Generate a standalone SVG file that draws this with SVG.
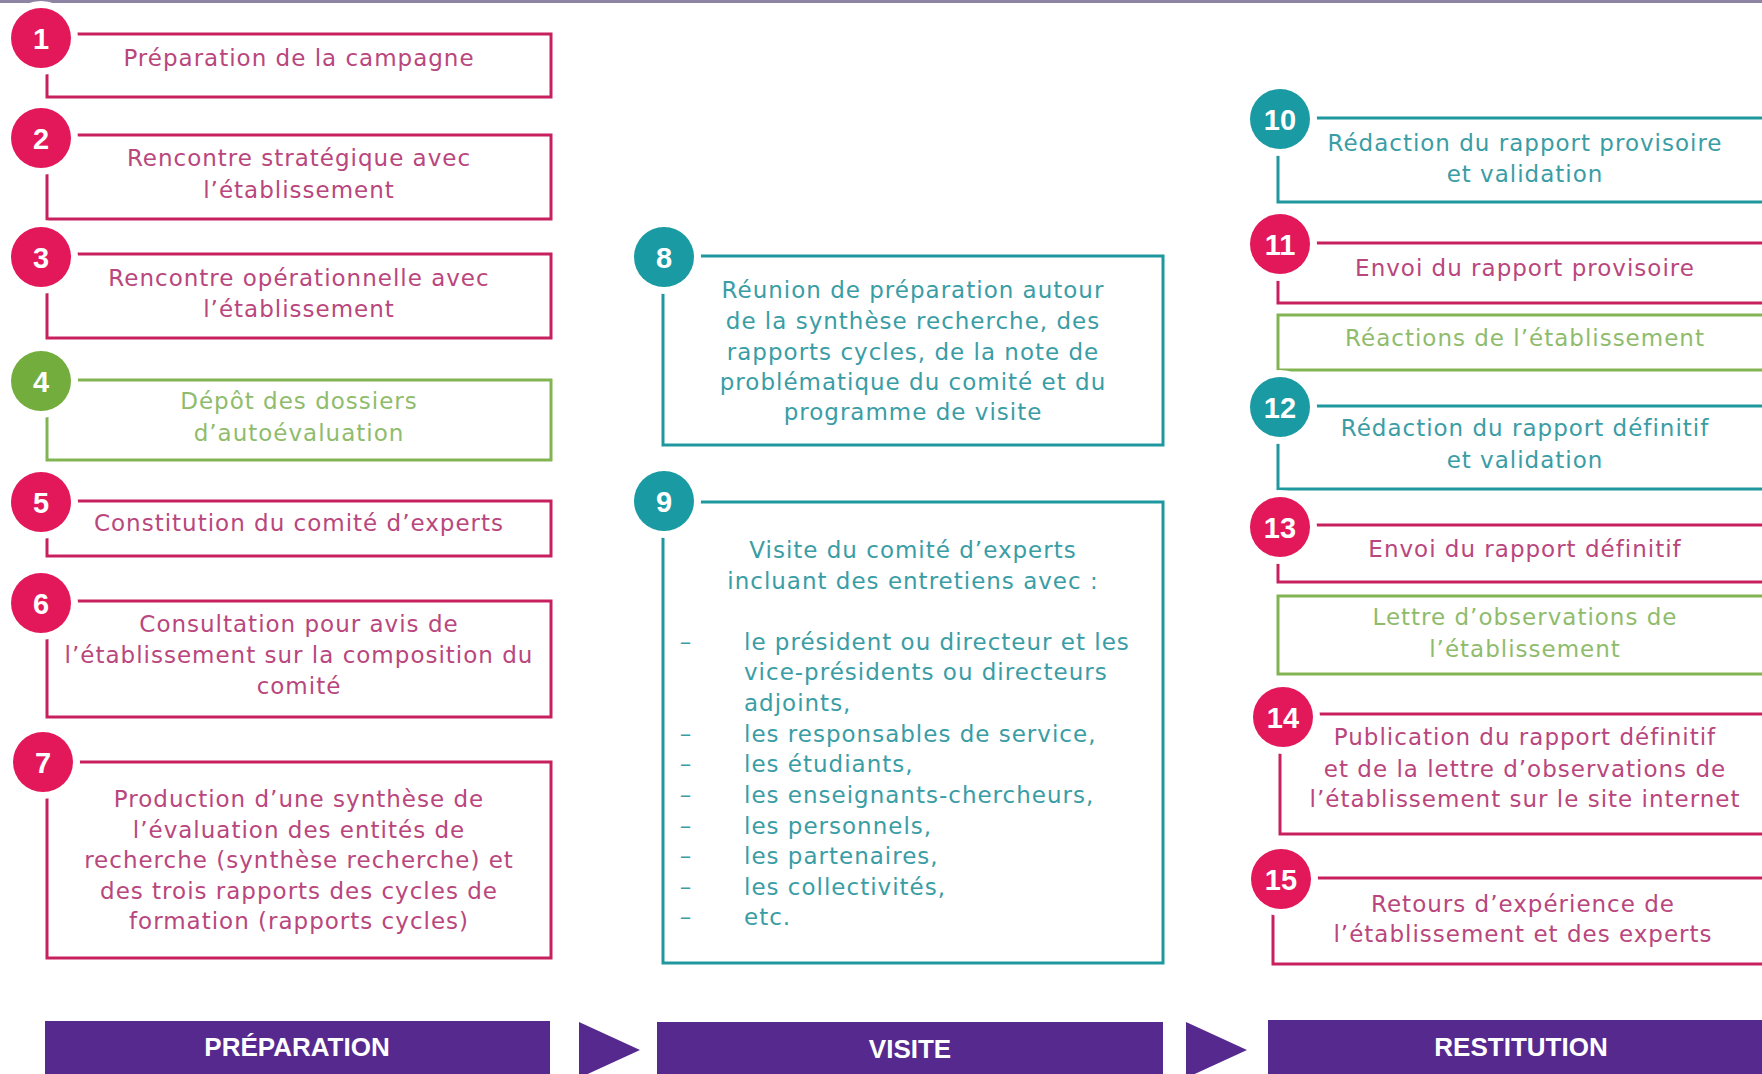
<svg xmlns="http://www.w3.org/2000/svg" width="1762" height="1074" viewBox="0 0 1762 1074">
<defs>
<style>
.pk{fill:#fff;stroke:#c8205f;stroke-width:3}
.tl{fill:#fff;stroke:#1f979f;stroke-width:3}
.gr{fill:#fff;stroke:#82b452;stroke-width:3}
.halo{fill:#fff}
.cpk{fill:#e3185b}
.ctl{fill:#1a9aa2}
.cgr{fill:#73ad3d}
.num{font-family:"Liberation Sans",Arial,sans-serif;font-weight:bold;font-size:29px;fill:#fff;text-anchor:middle}
.t{font-family:"DejaVu Sans",sans-serif;font-size:23px;letter-spacing:1px;text-anchor:middle}
.ts{text-anchor:start}
.tpk{fill:#b9467d}
.ttl{fill:#3a9da5}
.tgr{fill:#8fbc6c}
.bar{fill:#56298f}
.bl{font-family:"Liberation Sans",Arial,sans-serif;font-weight:bold;font-size:26px;fill:#fff;text-anchor:middle}
</style>
</defs>
<rect x="0" y="0" width="1762" height="1074" fill="#fff"/>
<rect x="0" y="0" width="1762" height="3" fill="#8c84a2"/>

<!-- Left column -->
<g id="n1">
<rect class="pk" x="47" y="34" width="504" height="63"/>
<circle class="halo" cx="41" cy="38" r="37"/><circle class="cpk" cx="41" cy="38" r="30"/>
<text class="num" x="41" y="49">1</text>
<text class="t tpk" x="299" y="66">Préparation de la campagne</text>
</g>
<g id="n2">
<rect class="pk" x="47" y="135" width="504" height="84"/>
<circle class="halo" cx="41" cy="138" r="37"/><circle class="cpk" cx="41" cy="138" r="30"/>
<text class="num" x="41" y="149">2</text>
<text class="t tpk" x="299" y="166">Rencontre stratégique avec</text>
<text class="t tpk" x="299" y="198">l’établissement</text>
</g>
<g id="n3">
<rect class="pk" x="47" y="254" width="504" height="84"/>
<circle class="halo" cx="41" cy="257" r="37"/><circle class="cpk" cx="41" cy="257" r="30"/>
<text class="num" x="41" y="268">3</text>
<text class="t tpk" x="299" y="286">Rencontre opérationnelle avec</text>
<text class="t tpk" x="299" y="317">l’établissement</text>
</g>
<g id="n4">
<rect class="gr" x="47" y="380" width="504" height="80"/>
<circle class="halo" cx="41" cy="381" r="37"/><circle class="cgr" cx="41" cy="381" r="30"/>
<text class="num" x="41" y="392">4</text>
<text class="t tgr" x="299" y="409">Dépôt des dossiers</text>
<text class="t tgr" x="299" y="441">d’autoévaluation</text>
</g>
<g id="n5">
<rect class="pk" x="47" y="501" width="504" height="55"/>
<circle class="halo" cx="41" cy="502" r="37"/><circle class="cpk" cx="41" cy="502" r="30"/>
<text class="num" x="41" y="513">5</text>
<text class="t tpk" x="299" y="531">Constitution du comité d’experts</text>
</g>
<g id="n6">
<rect class="pk" x="47" y="601" width="504" height="116"/>
<circle class="halo" cx="41" cy="603" r="37"/><circle class="cpk" cx="41" cy="603" r="30"/>
<text class="num" x="41" y="614">6</text>
<text class="t tpk" x="299" y="632">Consultation pour avis de</text>
<text class="t tpk" x="299" y="663">l’établissement sur la composition du</text>
<text class="t tpk" x="299" y="694">comité</text>
</g>
<g id="n7">
<rect class="pk" x="47" y="762" width="504" height="196"/>
<circle class="halo" cx="43" cy="762" r="37"/><circle class="cpk" cx="43" cy="762" r="30"/>
<text class="num" x="43" y="773">7</text>
<text class="t tpk" x="299" y="807">Production d’une synthèse de</text>
<text class="t tpk" x="299" y="838">l’évaluation des entités de</text>
<text class="t tpk" x="299" y="868">recherche (synthèse recherche) et</text>
<text class="t tpk" x="299" y="899">des trois rapports des cycles de</text>
<text class="t tpk" x="299" y="929">formation (rapports cycles)</text>
</g>

<!-- Middle column -->
<g id="n8">
<rect class="tl" x="663" y="256" width="500" height="189"/>
<circle class="halo" cx="664" cy="257" r="37"/><circle class="ctl" cx="664" cy="257" r="30"/>
<text class="num" x="664" y="268">8</text>
<text class="t ttl" x="913" y="298">Réunion de préparation autour</text>
<text class="t ttl" x="913" y="329">de la synthèse recherche, des</text>
<text class="t ttl" x="913" y="360">rapports cycles, de la note de</text>
<text class="t ttl" x="913" y="390">problématique du comité et du</text>
<text class="t ttl" x="913" y="420">programme de visite</text>
</g>
<g id="n9">
<rect class="tl" x="663" y="502" width="500" height="461"/>
<circle class="halo" cx="664" cy="501" r="37"/><circle class="ctl" cx="664" cy="501" r="30"/>
<text class="num" x="664" y="512">9</text>
<text class="t ttl" x="913" y="558">Visite du comité d’experts</text>
<text class="t ttl" x="913" y="589">incluant des entretiens avec :</text>
<text class="t ttl" x="686" y="650">–</text>
<text class="t ttl ts" x="744" y="650">le président ou directeur et les</text>
<text class="t ttl ts" x="744" y="680">vice-présidents ou directeurs</text>
<text class="t ttl ts" x="744" y="711">adjoints,</text>
<text class="t ttl" x="686" y="742">–</text>
<text class="t ttl ts" x="744" y="742">les responsables de service,</text>
<text class="t ttl" x="686" y="772">–</text>
<text class="t ttl ts" x="744" y="772">les étudiants,</text>
<text class="t ttl" x="686" y="803">–</text>
<text class="t ttl ts" x="744" y="803">les enseignants-chercheurs,</text>
<text class="t ttl" x="686" y="834">–</text>
<text class="t ttl ts" x="744" y="834">les personnels,</text>
<text class="t ttl" x="686" y="864">–</text>
<text class="t ttl ts" x="744" y="864">les partenaires,</text>
<text class="t ttl" x="686" y="895">–</text>
<text class="t ttl ts" x="744" y="895">les collectivités,</text>
<text class="t ttl" x="686" y="925">–</text>
<text class="t ttl ts" x="744" y="925">etc.</text>
</g>

<!-- Right column -->
<g id="n10">
<rect class="tl" x="1278" y="118" width="520" height="84"/>
<circle class="halo" cx="1280" cy="119" r="37"/><circle class="ctl" cx="1280" cy="119" r="30"/>
<text class="num" x="1280" y="130">10</text>
<text class="t ttl" x="1525" y="151">Rédaction du rapport provisoire</text>
<text class="t ttl" x="1525" y="182">et validation</text>
</g>
<g id="n11">
<rect class="pk" x="1278" y="243" width="520" height="60"/>
<circle class="halo" cx="1280" cy="244" r="37"/><circle class="cpk" cx="1280" cy="244" r="30"/>
<text class="num" x="1280" y="255">11</text>
<text class="t tpk" x="1525" y="276">Envoi du rapport provisoire</text>
</g>
<g id="n11b">
<rect class="gr" x="1278" y="315" width="520" height="55"/>
<text class="t tgr" x="1525" y="346">Réactions de l’établissement</text>
</g>
<g id="n12">
<rect class="tl" x="1278" y="406" width="520" height="83"/>
<circle class="halo" cx="1280" cy="407" r="37"/><circle class="ctl" cx="1280" cy="407" r="30"/>
<text class="num" x="1280" y="418">12</text>
<text class="t ttl" x="1525" y="436">Rédaction du rapport définitif</text>
<text class="t ttl" x="1525" y="468">et validation</text>
</g>
<g id="n13">
<rect class="pk" x="1278" y="525" width="520" height="57"/>
<circle class="halo" cx="1280" cy="527" r="37"/><circle class="cpk" cx="1280" cy="527" r="30"/>
<text class="num" x="1280" y="538">13</text>
<text class="t tpk" x="1525" y="557">Envoi du rapport définitif</text>
</g>
<g id="n13b">
<rect class="gr" x="1278" y="596" width="520" height="78"/>
<text class="t tgr" x="1525" y="625">Lettre d’observations de</text>
<text class="t tgr" x="1525" y="657">l’établissement</text>
</g>
<g id="n14">
<rect class="pk" x="1280" y="714" width="520" height="120"/>
<circle class="halo" cx="1283" cy="717" r="37"/><circle class="cpk" cx="1283" cy="717" r="30"/>
<text class="num" x="1283" y="728">14</text>
<text class="t tpk" x="1525" y="745">Publication du rapport définitif</text>
<text class="t tpk" x="1525" y="777">et de la lettre d’observations de</text>
<text class="t tpk" x="1525" y="807">l’établissement sur le site internet</text>
</g>
<g id="n15">
<rect class="pk" x="1273" y="878" width="520" height="86"/>
<circle class="halo" cx="1281" cy="879" r="37"/><circle class="cpk" cx="1281" cy="879" r="30"/>
<text class="num" x="1281" y="890">15</text>
<text class="t tpk" x="1523" y="912">Retours d’expérience de</text>
<text class="t tpk" x="1523" y="942">l’établissement et des experts</text>
</g>

<!-- Phase bars -->
<g id="phase-preparation">
<rect class="bar" x="45" y="1021" width="505" height="60"/>
<text class="bl" x="297" y="1056">PRÉPARATION</text>
</g>
<g id="phase-visite">
<rect class="bar" x="657" y="1022" width="506" height="60"/>
<text class="bl" x="910" y="1058">VISITE</text>
</g>
<g id="phase-restitution">
<rect class="bar" x="1268" y="1020" width="520" height="60"/>
<text class="bl" x="1521" y="1056">RESTITUTION</text>
</g>

<g id="connectors">
<polygon class="bar" points="579,1022 640,1050 579,1078"/>
<polygon class="bar" points="1186,1022 1247,1050 1186,1078"/>
</g>
</svg>
